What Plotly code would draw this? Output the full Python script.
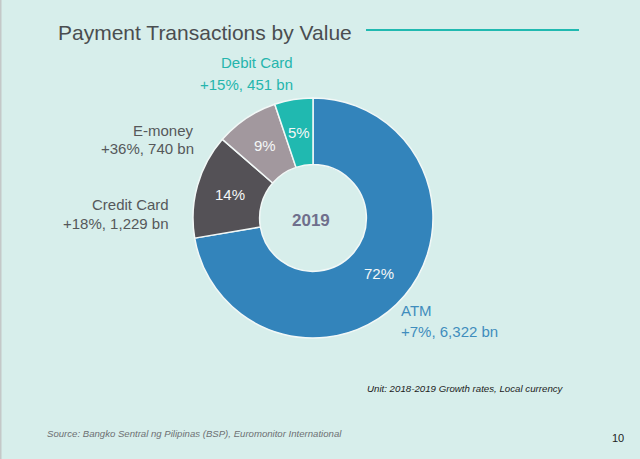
import math
import plotly.graph_objects as go

W, H = 640, 459

categories = ["ATM", "Credit Card", "E-money", "Debit Card"]
values = [6322, 1229, 740, 451]
pct_labels = ["72%", "14%", "9%", "5%"]
colors = ["#3384bb", "#545156", "#a2989e", "#20b9b0"]

FONT = "Liberation Sans"
BG = "#d7eeeb"

# donut box in pixels
LEFT, RIGHT, TOP, BOTTOM = 193, 433, 98, 338
HOLE = 0.445

fig = go.Figure(
    go.Pie(
        labels=categories,
        values=values,
        textinfo="none",
        hole=HOLE,
        sort=False,
        direction="clockwise",
        rotation=0,
        marker=dict(colors=colors, line=dict(color="#f2f8f7", width=1.5)),
        domain=dict(x=[LEFT / W, RIGHT / W], y=[1 - BOTTOM / H, 1 - TOP / H]),
        showlegend=False,
    )
)


def add_text(x, y, text, size, color, anchor="left", italic=False, bold=False):
    if bold:
        text = f"<b>{text}</b>"
    fig.add_annotation(
        x=x / W,
        y=1 - y / H,
        xref="paper",
        yref="paper",
        text=text,
        showarrow=False,
        xanchor=anchor,
        yanchor="middle",
        borderpad=0,
        font=dict(
            family=FONT,
            size=size,
            color=color,
            style="italic" if italic else "normal",
        ),
    )


# plotly pushes the small slice labels outwards, the slide keeps them mid ring
cx = (LEFT + RIGHT) / 2
cy = (TOP + BOTTOM) / 2
outer = (RIGHT - LEFT) / 2
mid = outer * (1 + HOLE) / 2
total = sum(values)
running = 0
for value, label in zip(values, pct_labels):
    angle = 2 * math.pi * (running + value / 2) / total
    running += value
    add_text(
        cx + mid * math.sin(angle),
        cy - mid * math.cos(angle),
        label,
        15,
        "#f4f7f7",
        anchor="center",
    )

add_text(57, 33, "Payment Transactions by Value", 21, "#4a4d50")

add_text(294, 63, "Debit Card", 15, "#25b5ad", anchor="right")
add_text(294, 84, "+15%, 451 bn", 15, "#25b5ad", anchor="right")
add_text(195, 130, "E-money", 15, "#55585a", anchor="right")
add_text(195, 148, "+36%, 740 bn", 15, "#55585a", anchor="right")
add_text(170, 204, "Credit Card", 15, "#55585a", anchor="right")
add_text(170, 223, "+18%, 1,229 bn", 15, "#55585a", anchor="right")
add_text(400, 310, "ATM", 15, "#3f8dbd")
add_text(400, 331, "+7%, 6,322 bn", 15, "#3f8dbd")

add_text(311, 220, "2019", 17, "#6f6f8c", anchor="center", bold=True)

add_text(366, 388, "Unit: 2018-2019 Growth rates, Local currency", 9.7, "#1c1c1c", italic=True)
add_text(46, 433, "Source: Bangko Sentral ng Pilipinas (BSP), Euromonitor International", 9.6, "#6d7073", italic=True)
add_text(611, 438, "10", 11, "#222222")

fig.update_layout(
    width=W,
    height=H,
    margin=dict(l=0, r=0, t=0, b=0),
    paper_bgcolor=BG,
    plot_bgcolor=BG,
    shapes=[
        dict(
            type="line",
            xref="paper",
            yref="paper",
            x0=366 / W,
            x1=579 / W,
            y0=1 - 30 / H,
            y1=1 - 30 / H,
            line=dict(color="#20b9b0", width=2),
        ),
        dict(
            type="rect",
            xref="paper",
            yref="paper",
            x0=0,
            x1=1.5 / W,
            y0=0,
            y1=1,
            fillcolor="#c4c8c8",
            line=dict(width=0),
        ),
    ],
)

# the page's default body margin would push the slide off the window
fig.write_html(
    "out.html",
    config={"displayModeBar": False},
    post_script="document.body.style.margin='0';document.body.style.overflow='hidden';",
)
